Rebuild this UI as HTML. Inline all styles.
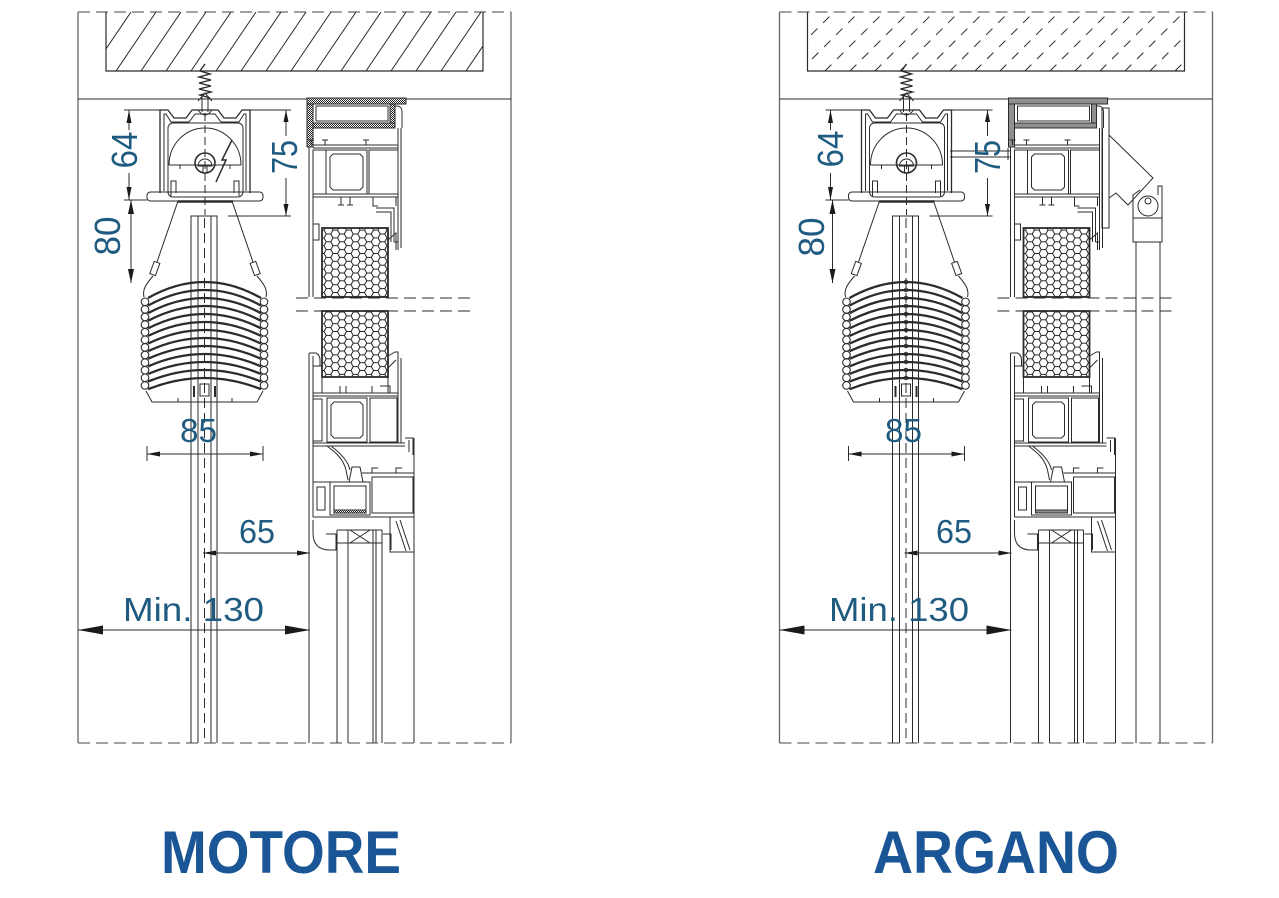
<!DOCTYPE html>
<html><head><meta charset="utf-8">
<style>
html,body{margin:0;padding:0;background:#fff;}
svg{display:block;}
.d{font-family:"Liberation Sans",sans-serif;fill:#1f5b80;}
.t{font-family:"Liberation Sans",sans-serif;font-weight:bold;fill:#1a5596;font-size:60px;}
</style></head><body>
<svg width="1279" height="898" viewBox="0 0 1279 898" xmlns="http://www.w3.org/2000/svg">
<defs>
<pattern id="hc" patternUnits="userSpaceOnUse" width="13.5" height="7.8"><path d="M0,3.9 L2.25,0 L6.75,0 L9,3.9 L6.75,7.8 L2.25,7.8 Z M9,3.9 H13.5" fill="none" stroke="#222" stroke-width="1"/></pattern>
<pattern id="dt" patternUnits="userSpaceOnUse" width="2" height="2"><rect width="2" height="2" fill="#fff"/><rect width="1" height="1" fill="#222"/><rect x="1" y="1" width="1" height="1" fill="#222"/></pattern>
<clipPath id="hl"><rect x="106" y="12" width="377" height="59"/></clipPath>
<clipPath id="hr"><rect x="808" y="12" width="376" height="59"/></clipPath>
</defs>
<rect width="1279" height="898" fill="#fff"/>

<g id="P" fill="none" stroke="#2b2b2b" stroke-width="1">
<path d="M78,12 H511 M78,743 H511" stroke-dasharray="12 6" stroke="#444"/>
<path d="M78,12 V743 M511,12 V743" stroke="#666" stroke-width="1.3"/>
<path d="M78,99 H511"/>
<path d="M106,12 V71 H483 V12" stroke-width="1.2"/>
<!-- screw -->
<path d="M205,64 L200,71 L210,74 L199,77 L211,80 L199,83 L211,86 L199,89 L211,92 L200,95 L210,98" stroke-width="1.4"/>
<path d="M198,101 L205,93 L212,101 M202,97 V112 M208,97 V112"/>
<!-- motor box -->
<path d="M160,193 V110 H168 L174,118 H186 L192,110 H218 L224,118 H236 L242,110 H250 V193" stroke-width="1.3"/>
<path d="M164,191 V114 H166 L171,122 H189 L195,114 H215 L221,122 H239 L244,114 H246 V191"/>
<path d="M198,110 Q205,120 212,110"/>
<rect x="168" y="123" width="75" height="74" rx="5"/>
<path d="M169,165 A36,37 0 0 1 241,165 M169,165 H241 M180,165 V169 M230,165 V169"/>
<circle cx="205" cy="163" r="10" stroke-width="1.6"/>
<path d="M198,166 A7,7 0 0 1 212,166 Z M203,166 V173 H207 V166"/>
<path d="M171,196 V181 H176 V193 M239,196 V181 H234 V193"/>
<rect x="147" y="192" width="116" height="9" rx="3.5"/>
<path d="M178,201.5 H233" stroke-width="2.5"/>
<path d="M205,113 V215" stroke-dasharray="8 4"/>
<!-- extension lines -->
<path d="M124,110 H160 M124,200 H147 M250,110 H291 M228,216 H291"/>
<!-- dims -->
<path d="M129,110 V130 M129,173 V200 M131,200 V283 M286,110 V136 M286,178 V216"/>
<path d="M147,454 H263 M147,446 V461 M263,446 V461 M203,553 H310 M78,630 H310"/>
<g fill="#1a1a1a" stroke="none">
<polygon points="129,110 126.5,123 131.5,123"/>
<polygon points="129,200 126.5,187 131.5,187"/>
<polygon points="131,200 128,214 134,214"/>
<polygon points="131,283 128,269 134,269"/>
<polygon points="286,110 283.5,122 288.5,122"/>
<polygon points="286,216 283.5,204 288.5,204"/>
<polygon points="147,454 160,451.5 160,456.5"/>
<polygon points="263,454 250,451.5 250,456.5"/>
<polygon points="203,553 216,550.5 216,555.5"/>
<polygon points="310,553 297,550.5 297,555.5"/>
<polygon points="78,630 103,625.5 103,634.5"/>
<polygon points="310,630 285,625.5 285,634.5"/>
</g>
<!-- cords -->
<path d="M178,201 L157,262 M232,201 L253,262"/>
<rect x="152" y="262" width="6" height="13" transform="rotate(20 155 268)"/>
<rect x="252" y="262" width="6" height="13" transform="rotate(-20 255 268)"/>
<path d="M153,276 C147,283 142,289 144,297 M257,276 C263,283 268,289 266,297"/>
<!-- roll -->
<path stroke-width="2.3" d="M148,298 Q204.5,266 261,298 M148,305.6 Q204.5,274.4 261,305.6 M148,313.2 Q204.5,282.8 261,313.2 M148,320.8 Q204.5,291.2 261,320.8 M148,328.4 Q204.5,299.6 261,328.4 M148,336 Q204.5,308 261,336 M148,343.6 Q204.5,316.4 261,343.6 M148,351.2 Q204.5,324.8 261,351.2 M148,358.8 Q204.5,333.2 261,358.8 M148,366.4 Q204.5,341.6 261,366.4 M148,374 Q204.5,350 261,374 M148,381.6 Q204.5,358.4 261,381.6 M148,389.2 Q204.5,366.8 261,389.2"/>
<g stroke-width="1.1">
<circle cx="145" cy="301.8" r="3.8"/><circle cx="145" cy="309.4" r="3.8"/><circle cx="145" cy="317" r="3.8"/><circle cx="145" cy="324.6" r="3.8"/><circle cx="145" cy="332.2" r="3.8"/><circle cx="145" cy="339.8" r="3.8"/><circle cx="145" cy="347.4" r="3.8"/><circle cx="145" cy="355" r="3.8"/><circle cx="145" cy="362.6" r="3.8"/><circle cx="145" cy="370.2" r="3.8"/><circle cx="145" cy="377.8" r="3.8"/><circle cx="145" cy="385.4" r="3.8"/>
<circle cx="264" cy="301.8" r="3.8"/><circle cx="264" cy="309.4" r="3.8"/><circle cx="264" cy="317" r="3.8"/><circle cx="264" cy="324.6" r="3.8"/><circle cx="264" cy="332.2" r="3.8"/><circle cx="264" cy="339.8" r="3.8"/><circle cx="264" cy="347.4" r="3.8"/><circle cx="264" cy="355" r="3.8"/><circle cx="264" cy="362.6" r="3.8"/><circle cx="264" cy="370.2" r="3.8"/><circle cx="264" cy="377.8" r="3.8"/><circle cx="264" cy="385.4" r="3.8"/>
</g>
<path d="M146,391 L152,402 H257 L263,391 M178,402 V398 M232,402 V398"/>
<rect x="200" y="384" width="9" height="12"/>
<path d="M194,386 V397 M215,386 V397" stroke-width="2"/>
<!-- guide -->
<path d="M191,743 V216 H217 V743 M198,216 V743 M211,216 V743"/>
<path d="M204.5,218 V743" stroke-dasharray="10 5"/>
<!-- cassette -->
<rect x="307" y="98" width="99" height="6" fill="url(#dt)"/>
<rect x="307" y="104" width="6" height="43" fill="url(#dt)"/>
<rect x="313" y="123" width="82" height="5" fill="url(#dt)"/>
<rect x="390" y="104" width="5" height="19" fill="url(#dt)"/>
<rect x="316" y="106" width="72" height="15"/>
<path d="M395,106 H398 Q402,107 402,112 V128 M398,128 V250 M401,128 V248"/>
<!-- upper frame -->
<path d="M309,147 V297 M313,150 V297"/>
<path d="M313,145 H398 M313,148 H398"/>
<path d="M311,145 V140 M325,145 V140 M366,145 V140 M308,140 H314 M322,140 H328 M363,140 H369"/>
<rect x="326" y="150" width="41" height="44"/>
<path d="M330,157 V187 L333,190 H360 L363,187 V157 L360,154 H333 Z"/>
<rect x="369" y="150" width="29" height="44"/>
<rect x="313" y="150" width="13" height="44"/>
<path d="M313,194 H398 M313,197 H398"/>
<path d="M341,197 V205 M350,197 V205 M338,205 H344 M347,205 H353 M373,197 V206 H378 M396,197 V206"/>
<path d="M376,208 H394 V242 M376,212 H391 V242 M394,242 H398"/>
<rect x="313" y="224" width="6" height="16"/>
<path d="M388,240 L396,233 V250"/>
<rect x="322" y="228" width="66" height="69" fill="url(#hc)" stroke-width="1.8"/>
<!-- break -->
<path d="M296,298 H470 M296,311 H470" stroke-dasharray="12 6"/>
<!-- lower frame -->
<rect x="322" y="311" width="66" height="66" fill="url(#hc)" stroke-width="1.8"/>
<path d="M322,377 V393 M388,377 V393"/>
<path d="M309,353 V743 M313,356 V517"/>
<path d="M309,353 H316 Q320,355 320,360 V366 M313,366 H322"/>
<path d="M388,356 L395,352 H398 V443 M401,358 V443 M388,368 L396,360"/>
<path d="M313,393 H398 M313,396 H398 M340,393 V386 M346,393 V386 M372,393 V386 M380,386 H390 V393"/>
<rect x="327" y="398" width="40" height="44"/>
<path d="M331,405 V435 L334,438 H360 L363,435 V405 L360,402 H334 Z"/>
<rect x="370" y="398" width="27" height="44"/>
<rect x="313" y="399" width="9" height="42"/>
<path d="M313,443 H405 M313,446 H405 M405,438 H413 V455 M409,440 V452"/>
<path d="M327,446 C335,452 343,458 346,470 L348,480 M331,446 C339,452 348,460 350,470"/>
<path d="M349,482 L352,467 H360 L363,482"/>
<path d="M362,473 H414 M372,473 V468 H378 M396,473 V468 H402"/>
<rect x="372" y="477" width="41" height="36"/>
<rect x="330" y="482" width="40" height="33"/>
<path d="M334,486 H366 V510 H334 Z"/>
<rect x="334" y="510" width="32" height="3" fill="url(#dt)"/>
<path d="M313,482 H330 M317,487 V510 H325 V487 Z"/>
<path d="M313,517 H414"/>
<path d="M414,438 V743"/>
<path d="M313,520 V533 Q313,550 330,550 H337"/>
<path d="M390,517 V552 H414 M396,521 L406,551 M400,520 L410,550"/>
<path d="M337,530 H382 M350,530 L370,543 M370,530 L350,543 M337,543 H382"/>
<path d="M337,530 V743 M348,530 V743 M373,530 V743 M376,530 V743 M382,530 V743"/>
<path d="M326,534 H336 V550 M383,534 H391 V550"/>
</g>

<use href="#P" transform="translate(701.5,0)"/>

<!-- left-only -->
<g fill="none" stroke="#2b2b2b" stroke-width="1">
<path clip-path="url(#hl)" d="M66,71 L106,12 M91,71 L131,12 M116,71 L156,12 M141,71 L181,12 M166,71 L206,12 M191,71 L231,12 M216,71 L256,12 M241,71 L281,12 M266,71 L306,12 M291,71 L331,12 M316,71 L356,12 M341,71 L381,12 M366,71 L406,12 M391,71 L431,12 M416,71 L456,12 M441,71 L481,12 M466,71 L506,12"/>
<path d="M232,140 L222,160 L226,160 L216,182" stroke-width="1.5"/>
</g>

<!-- right-only -->
<g fill="none" stroke="#2b2b2b" stroke-width="1">
<path clip-path="url(#hr)" stroke-dasharray="9 8" d="M750,71 L809,12 M775,71 L834,12 M800,71 L859,12 M825,71 L884,12 M850,71 L909,12 M875,71 L934,12 M900,71 L959,12 M925,71 L984,12 M950,71 L1009,12 M975,71 L1034,12 M1000,71 L1059,12 M1025,71 L1084,12 M1050,71 L1109,12 M1075,71 L1134,12 M1100,71 L1159,12 M1125,71 L1184,12 M1150,71 L1209,12 M1175,71 L1234,12"/>
<path d="M950,151 H1010 M950,157 H1010 M1008,148 V160"/>
<rect x="1102" y="108" width="7" height="120"/>
<path d="M1109,135 L1153,178 L1128,205 L1116,193 L1109,198"/>
<path d="M1133,218 V195 L1140,190 M1162,218 V186 H1158 V195"/>
<circle cx="1148" cy="206" r="10"/>
<circle cx="1148" cy="201" r="3"/>
<rect x="1133" y="218" width="29" height="24"/>
<path d="M1136,242 V743 M1160,242 V743"/>
<g stroke-width="0.9">
<circle cx="906" cy="282" r="1.8"/><circle cx="906" cy="290" r="1.8"/><circle cx="906" cy="298" r="1.8"/><circle cx="906" cy="306" r="1.8"/><circle cx="906" cy="314" r="1.8"/><circle cx="906" cy="322" r="1.8"/><circle cx="906" cy="330" r="1.8"/><circle cx="906" cy="338" r="1.8"/><circle cx="906" cy="346" r="1.8"/><circle cx="906" cy="354" r="1.8"/><circle cx="906" cy="362" r="1.8"/><circle cx="906" cy="370" r="1.8"/><circle cx="906" cy="378" r="1.8"/>
</g>
</g>

<!-- dimension texts left -->
<text class="d" font-size="36" text-anchor="middle" textLength="37" lengthAdjust="spacingAndGlyphs" transform="translate(137,150) rotate(-90)">64</text>
<text class="d" font-size="36" text-anchor="middle" textLength="34" lengthAdjust="spacingAndGlyphs" transform="translate(297,157) rotate(-90)">75</text>
<text class="d" font-size="36" text-anchor="middle" textLength="39" lengthAdjust="spacingAndGlyphs" transform="translate(120,236) rotate(-90)">80</text>
<text class="d" font-size="33" x="180" y="442" textLength="37" lengthAdjust="spacingAndGlyphs">85</text>
<text class="d" font-size="33" x="239" y="543" textLength="36" lengthAdjust="spacingAndGlyphs">65</text>
<text class="d" font-size="33" x="123" y="621" textLength="141" lengthAdjust="spacingAndGlyphs">Min. 130</text>

<!-- dimension texts right -->
<text class="d" font-size="36" text-anchor="middle" textLength="37" lengthAdjust="spacingAndGlyphs" transform="translate(843,149) rotate(-90)">64</text>
<text class="d" font-size="36" text-anchor="middle" textLength="34" lengthAdjust="spacingAndGlyphs" transform="translate(1000,157) rotate(-90)">75</text>
<text class="d" font-size="36" text-anchor="middle" textLength="39" lengthAdjust="spacingAndGlyphs" transform="translate(824,237) rotate(-90)">80</text>
<text class="d" font-size="33" x="885" y="442" textLength="37" lengthAdjust="spacingAndGlyphs">85</text>
<text class="d" font-size="33" x="936" y="543" textLength="36" lengthAdjust="spacingAndGlyphs">65</text>
<text class="d" font-size="33" x="829" y="621" textLength="140" lengthAdjust="spacingAndGlyphs">Min. 130</text>

<!-- titles -->
<text class="t" x="161" y="873" textLength="240" lengthAdjust="spacingAndGlyphs">MOTORE</text>
<text class="t" x="873" y="873" textLength="246" lengthAdjust="spacingAndGlyphs">ARGANO</text>
</svg>
</body></html>
